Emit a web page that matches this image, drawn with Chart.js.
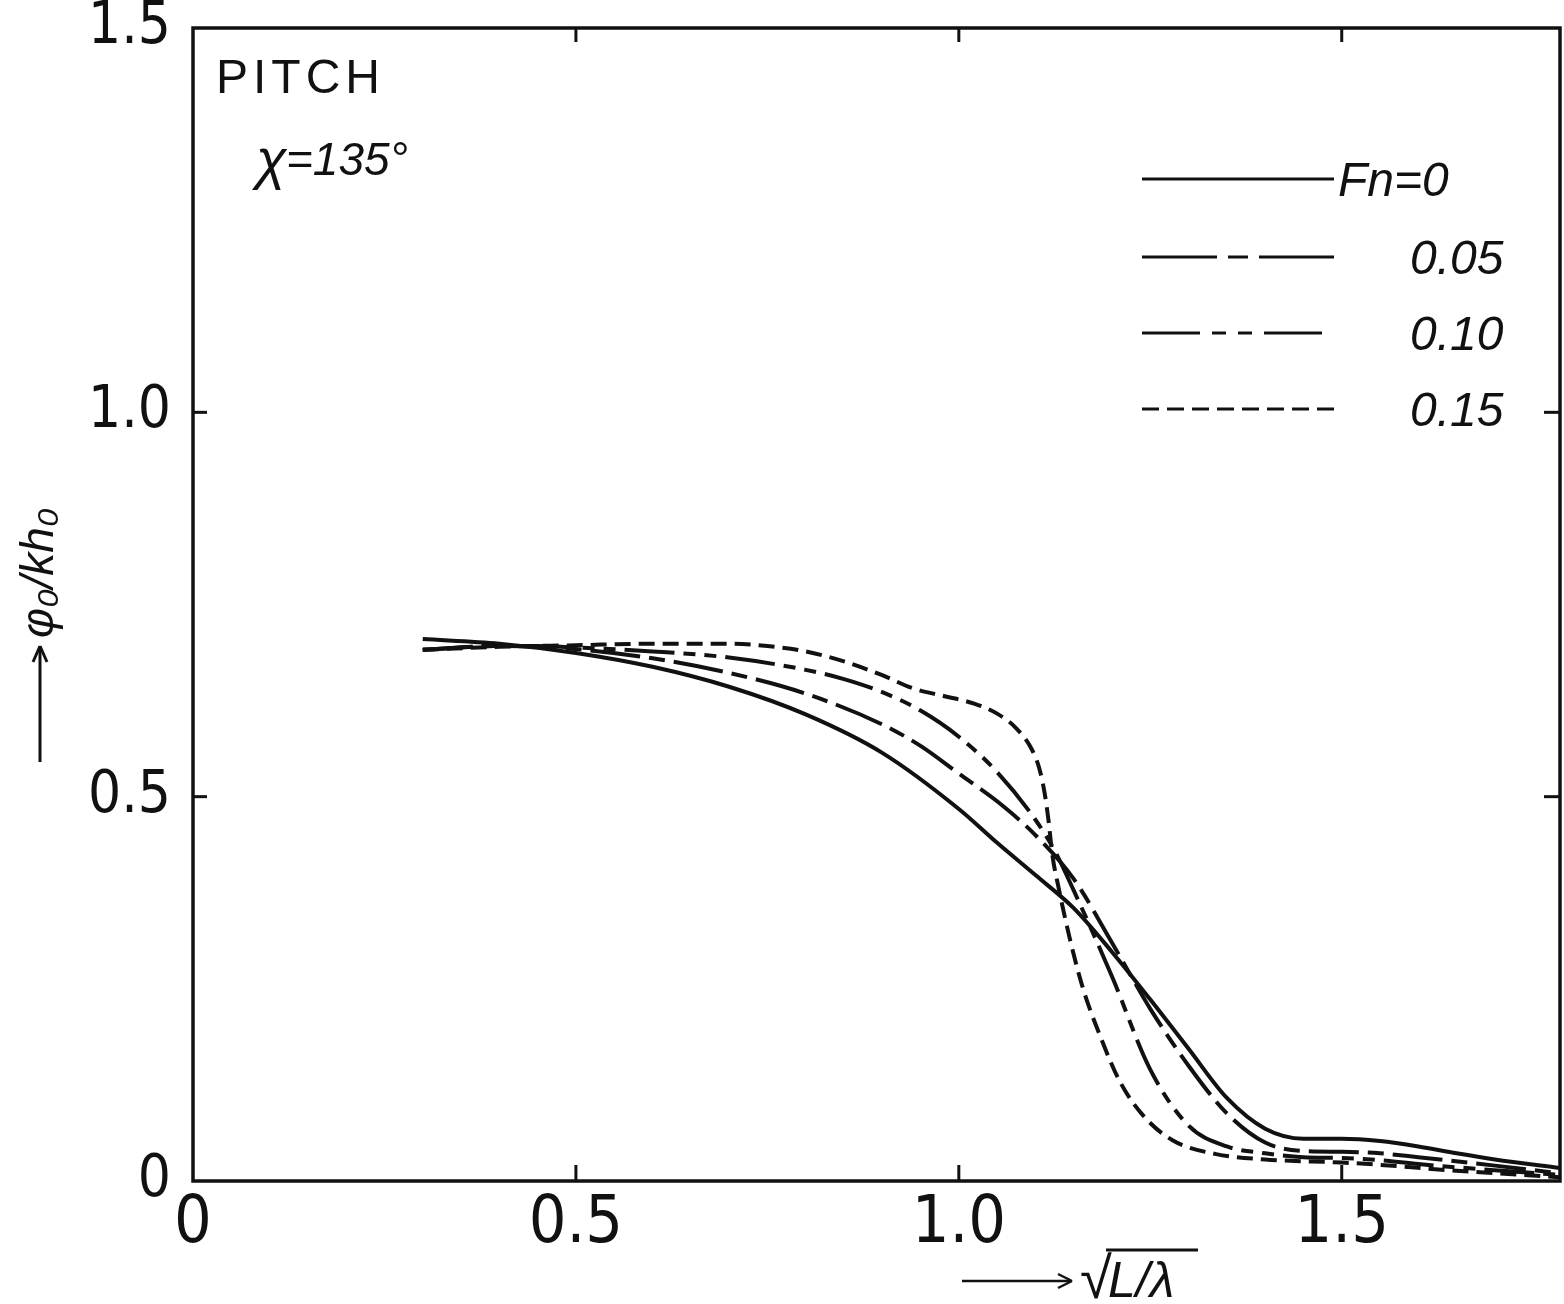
<!DOCTYPE html>
<html>
<head>
<meta charset="utf-8">
<script src="https://cdn.jsdelivr.net/npm/chart.js@4.4.1/dist/chart.umd.min.js"></script>
<style>
html,body{margin:0;padding:0;background:#ffffff;}
#wrap{width:1564px;height:1304px;position:relative;}
</style>
</head>
<body>
<div id="wrap"><canvas id="c" width="1564" height="1304"></canvas></div>
<script>
// ---- data ----
const seriesLabels = ['Fn=0', '0.05', '0.10', '0.15'];
const xTickValues = [0, 0.5, 1.0, 1.5];
const yTickValues = [0, 0.5, 1.0, 1.5];

const xFn000 = [0.30,0.40,0.50,0.60,0.70,0.80,0.90,1.00,1.05,1.10,1.15,1.20,1.25,1.30,1.35,1.40,1.45,1.50,1.55,1.60,1.65,1.70,1.785];
const yFn000 = [0.705,0.699,0.687,0.669,0.643,0.607,0.557,0.484,0.440,0.398,0.355,0.298,0.236,0.172,0.108,0.068,0.055,0.055,0.052,0.045,0.036,0.028,0.017];

const xFn005 = [0.30,0.40,0.45,0.50,0.60,0.70,0.80,0.90,0.95,1.00,1.05,1.10,1.15,1.20,1.25,1.30,1.35,1.40,1.45,1.50,1.55,1.60,1.70,1.785];
const yFn005 = [0.691,0.696,0.695,0.692,0.680,0.661,0.634,0.594,0.566,0.530,0.494,0.450,0.393,0.310,0.224,0.150,0.088,0.050,0.039,0.038,0.036,0.031,0.020,0.010];

const xFn010 = [0.30,0.40,0.45,0.50,0.60,0.70,0.80,0.85,0.90,0.95,1.00,1.05,1.10,1.125,1.15,1.20,1.25,1.30,1.35,1.40,1.45,1.50,1.55,1.60,1.70,1.785];
const yFn010 = [0.691,0.696,0.696,0.694,0.689,0.681,0.665,0.653,0.636,0.612,0.578,0.532,0.470,0.430,0.378,0.266,0.145,0.072,0.045,0.036,0.031,0.030,0.027,0.022,0.014,0.008];

const xFn015 = [0.30,0.40,0.50,0.60,0.70,0.75,0.80,0.85,0.90,0.94,0.98,1.02,1.05,1.075,1.095,1.105,1.112,1.117,1.122,1.13,1.145,1.162,1.184,1.21,1.24,1.279,1.336,1.40,1.50,1.55,1.64,1.785];
const yFn015 = [0.691,0.695,0.697,0.699,0.699,0.696,0.689,0.676,0.658,0.641,0.631,0.621,0.608,0.589,0.562,0.537,0.505,0.470,0.425,0.383,0.315,0.251,0.190,0.130,0.086,0.053,0.035,0.028,0.024,0.021,0.014,0.005];

const xs = [xFn000, xFn005, xFn010, xFn015];
const ys = [yFn000, yFn005, yFn010, yFn015];
const dashes = [[], [50,9,16,9], [50,9,12,9,12,9], [16,8]];
const legendDashes = [[], [75,11,20,11], [58,12,14,12,14,12], [17,8]];

const pts = (xa, ya) => xa.map((v, i) => ({x: v, y: ya[i]}));

const INK = '#111111';
const narrow = "'Liberation Sans Narrow','DejaVu Sans Condensed','Liberation Sans',sans-serif";
const sans = "'Liberation Sans','DejaVu Sans',sans-serif";

function seg(ctx, x1, y1, x2, y2) { ctx.beginPath(); ctx.moveTo(x1, y1); ctx.lineTo(x2, y2); ctx.stroke(); }

const decor = {
  id: 'decor',
  afterDraw(chart) {
    const ctx = chart.ctx, a = chart.chartArea, sx = chart.scales.x, sy = chart.scales.y;
    ctx.save();
    ctx.strokeStyle = INK; ctx.fillStyle = INK; ctx.setLineDash([]);
    // frame
    ctx.lineWidth = 3.5;
    ctx.strokeRect(a.left, a.top, a.right - a.left, a.bottom - a.top);
    // inward ticks on all sides
    ctx.lineWidth = 3;
    xTickValues.forEach(v => {
      if (v <= 0) return;
      const px = sx.getPixelForValue(v);
      seg(ctx, px, a.bottom, px, a.bottom - 16);
      seg(ctx, px, a.top, px, a.top + 14);
    });
    yTickValues.forEach(v => {
      if (v <= 0 || v >= 1.5) return;
      const py = sy.getPixelForValue(v);
      seg(ctx, a.left, py, a.left + 14, py);
      seg(ctx, a.right, py, a.right - 16, py);
    });
    // panel labels
    ctx.textAlign = 'left'; ctx.textBaseline = 'alphabetic';
    ctx.font = "48px " + sans;
    try { ctx.letterSpacing = '5px'; } catch (e) {}
    ctx.fillText('PITCH', 216, 93);
    try { ctx.letterSpacing = '0px'; } catch (e) {}
    ctx.font = "italic 56px " + sans;
    ctx.fillText('χ', 256, 178);
    ctx.font = "italic 46px " + sans;
    ctx.fillText('=135°', 286, 175);
    // legend
    const legY = [179, 257, 333, 409];
    const legTextX = [1338, 1410, 1410, 1410];
    chart.data.datasets.forEach((ds, i) => {
      ctx.lineWidth = 3;
      ctx.setLineDash(legendDashes[i]);
      seg(ctx, 1142, legY[i], 1334, legY[i]);
      ctx.setLineDash([]);
      ctx.font = "italic 48px " + sans;
      ctx.textBaseline = 'middle';
      ctx.fillText(ds.label, legTextX[i], legY[i] + 4);
    });
    // x axis title:  ---->  sqrt(L/lambda)
    ctx.lineWidth = 2.5;
    ctx.textBaseline = 'alphabetic';
    seg(ctx, 962, 1281, 1070, 1281);
    seg(ctx, 1058, 1274, 1072, 1281); seg(ctx, 1058, 1288, 1072, 1281);
    ctx.font = "58px " + sans;
    ctx.fillText('√', 1080, 1298);
    ctx.font = "italic 50px " + sans;
    ctx.fillText('L/λ', 1108, 1297);
    ctx.lineWidth = 3;
    seg(ctx, 1106, 1250, 1198, 1250);
    // y axis title (rotated):  ---->  phi0 / k h0
    ctx.save();
    ctx.translate(40, 762);
    ctx.rotate(-Math.PI / 2);
    ctx.lineWidth = 3;
    seg(ctx, 0, 0, 114, 0);
    seg(ctx, 100, -7, 116, 0); seg(ctx, 100, 7, 116, 0);
    ctx.font = "italic 46px " + sans;
    ctx.textBaseline = 'middle';
    ctx.fillText('φ₀/kh₀', 124, 0);
    ctx.restore();
    ctx.restore();
  }
};

const chart = new Chart(document.getElementById('c'), {
  type: 'line',
  data: {
    datasets: seriesLabels.map((lab, i) => ({
      label: lab,
      data: pts(xs[i], ys[i]),
      borderColor: INK,
      borderWidth: 4,
      borderDash: dashes[i],
      pointRadius: 0,
      fill: false,
      cubicInterpolationMode: 'monotone'
    }))
  },
  options: {
    responsive: false,
    animation: false,
    devicePixelRatio: 1,
    layout: { padding: { top: 28, right: 4, left: 0, bottom: 0 } },
    plugins: { legend: { display: false }, tooltip: { enabled: false } },
    scales: {
      x: {
        type: 'linear', min: 0, max: 1.785,
        grid: { display: false, drawTicks: false },
        border: { display: false },
        ticks: {
          stepSize: 0.5, includeBounds: false, padding: 4, color: INK,
          font: { family: narrow, size: 66 },
          callback: v => (v === 0 ? '0' : v.toFixed(1))
        },
        afterFit: s => { s.height = 123; s.paddingLeft = 0; s.paddingRight = 0; }
      },
      y: {
        type: 'linear', min: 0, max: 1.5,
        grid: { display: false, drawTicks: false },
        border: { display: false },
        ticks: {
          stepSize: 0.5, padding: 22, color: INK,
          font: { family: narrow, size: 58 },
          callback: v => (v === 0 ? '0' : v.toFixed(1))
        },
        afterFit: s => { s.width = 193; s.paddingTop = 0; s.paddingBottom = 0; }
      }
    }
  },
  plugins: [decor]
});
</script>
</body>
</html>
